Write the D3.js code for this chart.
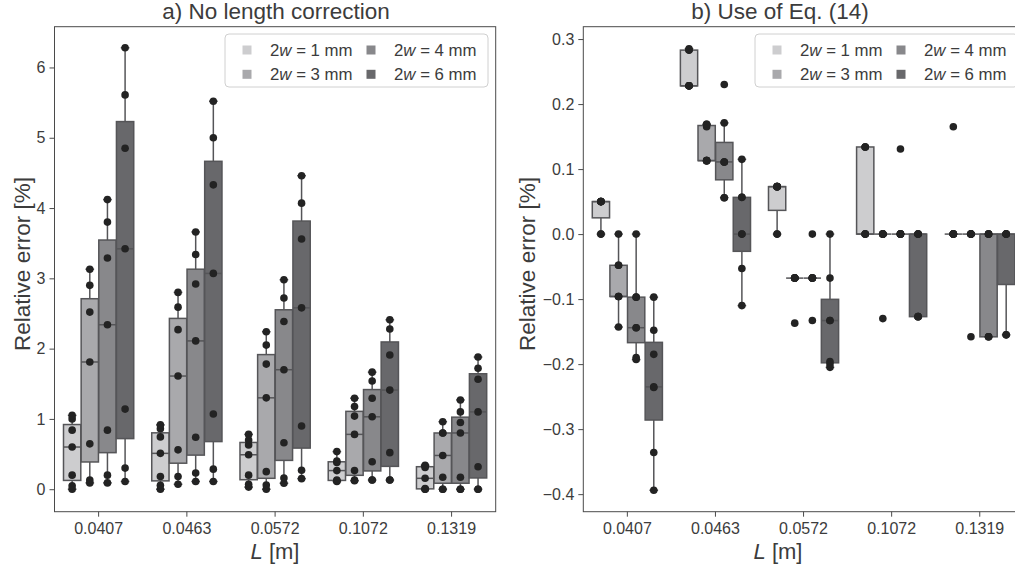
<!DOCTYPE html>
<html><head><meta charset="utf-8">
<script src="https://cdn.jsdelivr.net/npm/d3@7"></script>
<style>
body{margin:0;background:#fff}
svg text{font-family:"Liberation Sans",Arial,Helvetica,sans-serif;fill:#3c3c3c}
</style>
</head><body>
<svg id="chart" width="1015" height="568"></svg>
<script>
// ---------- data ----------
const categories = ["0.0407", "0.0463", "0.0572", "0.1072", "0.1319"];
const widthLabels = ["1", "3", "4", "6"];
const greys = ["#cdcdcf", "#a9a9ac", "#88888b", "#68686b"];

const ticksA = [0, 1, 2, 3, 4, 5, 6];
const ticksB = [-0.4, -0.3, -0.2, -0.1, 0.0, 0.1, 0.2, 0.3];

// a) No length correction: relative error [%] per category, per slit width
const noCorrW1 = [
  [0.0, 0.05, 0.2, 0.6, 0.84, 1.0, 1.05],
  [0.0, 0.057, 0.18, 0.51, 0.744, 0.86, 0.915],
  [0.03, 0.07, 0.20, 0.49, 0.63, 0.70, 0.78],
  [0.11, 0.12, 0.13, 0.265, 0.38, 0.40, 0.535],
  [0.0, 0.0, 0.01, 0.155, 0.31, 0.33, 0.34]
];
const noCorrW3 = [
  [0.09, 0.13, 0.645, 1.81, 2.52, 2.90, 3.13],
  [0.07, 0.18, 0.56, 1.61, 2.27, 2.59, 2.80],
  [0.0, 0.06, 0.25, 1.30, 1.78, 2.05, 2.24],
  [0.12, 0.13, 0.265, 0.78, 1.04, 1.175, 1.295],
  [0.0, 0.0, 0.17, 0.48, 0.80, 0.80, 0.96]
];
const noCorrW4 = [
  [0.09, 0.20, 0.84, 2.34, 3.29, 3.80, 4.12],
  [0.11, 0.23, 0.74, 2.11, 2.92, 3.34, 3.66],
  [0.085, 0.16, 0.66, 1.70, 2.385, 2.72, 2.98],
  [0.13, 0.13, 0.39, 1.03, 1.295, 1.54, 1.665],
  [0.0, 0.0, 0.17, 0.80, 0.95, 1.10, 1.27]
];
const noCorrW6 = [
  [0.11, 0.30, 1.14, 3.42, 4.85, 5.61, 6.28],
  [0.11, 0.285, 1.07, 3.07, 4.33, 5.00, 5.52],
  [0.15, 0.27, 0.90, 2.58, 3.56, 4.07, 4.46],
  [0.13, 0.13, 0.52, 1.41, 1.91, 2.28, 2.41],
  [0.0, 0.0, 0.32, 1.10, 1.565, 1.72, 1.88]
];

// b) Use of Eq. (14)
const eq14W1 = [
  [0.0, 0.0, 0.05, 0.05, 0.05, 0.05, 0.05],
  [0.228, 0.228, 0.228, 0.228, 0.283, 0.283, 0.285],
  [0.0, 0.0, 0.073, 0.073, 0.073, 0.073, 0.073],
  [0.0, 0.0, 0.0, 0.0, 0.134, 0.134, 0.134],
  [0.0, 0.0, 0.0, 0.0, 0.0, 0.0, 0.165]
];
const eq14W3 = [
  [-0.143, -0.096, -0.096, -0.096, -0.048, -0.048, 0.0],
  [0.113, 0.113, 0.113, 0.113, 0.165, 0.169, 0.169],
  [-0.137, -0.0677, -0.0677, -0.0677, -0.0677, -0.0677, -0.0677],
  [-0.13, 0.0, 0.0, 0.0, 0.0, 0.0, 0.0],
  [-0.158, 0.0, 0.0, 0.0, 0.0, 0.0, 0.0]
];
const eq14W4 = [
  [-0.193, -0.19, -0.144, -0.144, -0.097, -0.097, 0.0],
  [0.056, 0.056, 0.111, 0.111, 0.111, 0.171, 0.23],
  [-0.133, -0.0677, -0.0677, -0.0677, -0.0677, -0.0677, 0.0],
  [0.0, 0.0, 0.0, 0.0, 0.0, 0.0, 0.131],
  [-0.158, -0.158, -0.158, 0.0, 0.0, 0.0, 0.0]
];
const eq14W6 = [
  [-0.394, -0.336, -0.236, -0.235, -0.185, -0.148, -0.097],
  [-0.110, -0.053, 0.0, 0.0, 0.0565, 0.0565, 0.115],
  [-0.205, -0.2, -0.196, -0.133, -0.133, -0.0677, 0.0],
  [-0.127, -0.127, -0.127, 0.0, 0.0, 0.0, 0.0],
  [-0.155, -0.155, 0.0, 0.0, 0.0, 0.0, 0.0]
];

// ---------- drawing ----------
const svg = d3.select("#chart");
const lineCol = "#555558";
const dotCol = "#232323";
const textCol = "#3c3c3c";

function boxStats(values) {
  const s = values.slice().sort(d3.ascending);
  const q1 = d3.quantileSorted(s, 0.25), med = d3.quantileSorted(s, 0.5), q3 = d3.quantileSorted(s, 0.75);
  const iqr = q3 - q1;
  const lo = d3.min(s.filter(v => v >= q1 - 1.5 * iqr));
  const hi = d3.max(s.filter(v => v <= q3 + 1.5 * iqr));
  return {q1, med, q3, lo: Math.min(lo, q1), hi: Math.max(hi, q3)};
}

function panel(cfg) {
  const {x0, x1, yTop, yBot, yDomain, ticks, fmt, series, title, titleX, labelX, ylabelX, legendX} = cfg;
  const x = d3.scaleBand().domain(categories).range([x0, x1]).padding(0);
  const y = d3.scaleLinear().domain(yDomain).range([yBot, yTop]);
  const g = svg.append("g");
  const bw = x.bandwidth() * 0.8 / widthLabels.length;
  const boxW = bw * 0.98;

  series.forEach((ser, j) => {
    ser.forEach((vals, i) => {
      const st = boxStats(vals);
      const cx = x(categories[i]) + x.bandwidth() / 2 + (j - (widthLabels.length - 1) / 2) * bw;
      const bg = g.append("g");
      bg.append("line").attr("x1", cx).attr("x2", cx).attr("y1", y(st.q3)).attr("y2", y(st.hi))
        .attr("stroke", lineCol).attr("stroke-width", 1.5);
      bg.append("line").attr("x1", cx).attr("x2", cx).attr("y1", y(st.q1)).attr("y2", y(st.lo))
        .attr("stroke", lineCol).attr("stroke-width", 1.5);
      [st.hi, st.lo].forEach(v => {
        bg.append("line").attr("x1", cx - boxW / 4).attr("x2", cx + boxW / 4)
          .attr("y1", y(v)).attr("y2", y(v)).attr("stroke", lineCol).attr("stroke-width", 1.5);
      });
      bg.append("rect").attr("x", cx - boxW / 2).attr("width", boxW)
        .attr("y", y(st.q3)).attr("height", Math.max(0, y(st.q1) - y(st.q3)))
        .attr("fill", greys[j]).attr("stroke", lineCol).attr("stroke-width", 1.5);
      bg.append("line").attr("x1", cx - boxW / 2).attr("x2", cx + boxW / 2)
        .attr("y1", y(st.med)).attr("y2", y(st.med)).attr("stroke", lineCol).attr("stroke-width", 1.5);
    });
  });
  series.forEach((ser, j) => {
    ser.forEach((vals, i) => {
      const cx = x(categories[i]) + x.bandwidth() / 2 + (j - (widthLabels.length - 1) / 2) * bw;
      g.selectAll(null).data(vals).enter().append("circle")
        .attr("cx", cx).attr("cy", d => y(d)).attr("r", 3.8).attr("fill", dotCol);
    });
  });

  g.append("rect").attr("x", x0).attr("y", yTop).attr("width", x1 - x0).attr("height", yBot - yTop)
    .attr("fill", "none").attr("stroke", "#4a4a4a").attr("stroke-width", 1);

  const ya = g.append("g").attr("transform", `translate(${x0},0)`)
    .call(d3.axisLeft(y).tickValues(ticks).tickFormat(fmt).tickSize(5).tickPadding(4));
  ya.select(".domain").remove();
  ya.selectAll("line").attr("stroke", "#4a4a4a");
  ya.selectAll("text").style("font-size", "16px").attr("fill", textCol);

  const xa = g.append("g").attr("transform", `translate(0,${yBot})`)
    .call(d3.axisBottom(x).tickSize(5).tickPadding(6));
  xa.select(".domain").remove();
  xa.selectAll("line").attr("stroke", "#4a4a4a");
  xa.selectAll("text").style("font-size", "16px").attr("fill", textCol);

  g.append("text").attr("x", titleX).attr("y", 19).attr("text-anchor", "middle")
    .style("font-size", "22.5px").text(title);
  const xl = g.append("text").attr("x", labelX).attr("y", 559).attr("text-anchor", "middle").style("font-size", "22px");
  xl.append("tspan").style("font-style", "italic").text("L");
  xl.append("tspan").text(" [m]");
  g.append("text").attr("transform", `translate(${ylabelX},264) rotate(-90)`).attr("text-anchor", "middle")
    .style("font-size", "22.5px").text("Relative error [%]");

  const lg = g.append("g").attr("transform", `translate(${legendX},34)`);
  lg.append("rect").attr("width", 263).attr("height", 53).attr("rx", 4)
    .attr("fill", "#fff").attr("fill-opacity", 0.85).attr("stroke", "#d0d0d0");
  widthLabels.forEach((w, j) => {
    const col = Math.floor(j / 2), row = j % 2;
    const ex = 17.5 + col * 124, ey = 16 + row * 24.3;
    lg.append("rect").attr("x", ex).attr("y", ey - 4.5).attr("width", 9).attr("height", 9).attr("fill", greys[j]);
    const t = lg.append("text").attr("x", ex + 27.5).attr("y", ey + 6).style("font-size", "16.8px");
    t.append("tspan").text("2");
    t.append("tspan").style("font-style", "italic").text("w");
    t.append("tspan").text(` = ${w} mm`);
  });
}

panel({
  x0: 54.5, x1: 495.7, yTop: 26.7, yBot: 511.7, yDomain: [-0.32, 6.58],
  ticks: ticksA, fmt: d3.format("d"),
  series: [noCorrW1, noCorrW3, noCorrW4, noCorrW6],
  title: "a) No length correction", titleX: 276, labelX: 275, ylabelX: 30, legendX: 225
});
panel({
  x0: 583.3, x1: 1023.8, yTop: 26.7, yBot: 511.7, yDomain: [-0.427, 0.319],
  ticks: ticksB, fmt: d3.format(".1f"),
  series: [eq14W1, eq14W3, eq14W4, eq14W6],
  title: "b) Use of Eq. (14)", titleX: 780, labelX: 778, ylabelX: 535, legendX: 755
});
</script>
</body></html>
